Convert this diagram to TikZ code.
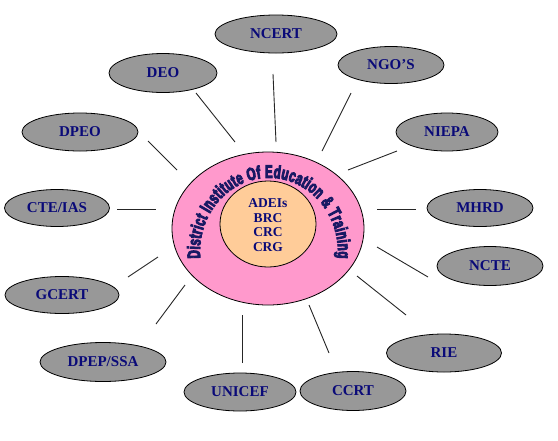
\documentclass[tikz,border=0pt]{standalone}
\usepackage{fontspec}
\setmainfont{Liberation Serif}
\newfontfamily\arcfont[FakeStretch=0.64,FakeBold=5]{Liberation Sans}
\usetikzlibrary{shapes.geometric,decorations.text}
\definecolor{satgray}{RGB}{152,152,152}
\definecolor{pinkfill}{RGB}{255,153,204}
\definecolor{orangefill}{RGB}{255,204,153}
\definecolor{navytext}{RGB}{10,10,120}
\definecolor{arcnavy}{RGB}{25,25,100}
\tikzset{
  sat/.style={ellipse, draw=black, line width=0.8pt, fill=satgray, inner sep=0pt,
    text=navytext, font=\fontsize{15}{17}\selectfont\bfseries},
  link/.style={draw=black!85, line width=0.9pt},
}
\begin{document}
\begin{tikzpicture}[x=1pt,y=-1pt]
\useasboundingbox (0,0) rectangle (558,440);
% central ellipses
\node[ellipse, draw=black, line width=0.8pt, fill=pinkfill, minimum width=192pt, minimum height=153pt, inner sep=0pt] (dit) at (268,228.5) {};
\node[ellipse, draw=black, line width=0.8pt, fill=orangefill, minimum width=96pt, minimum height=86pt, inner sep=0pt] (core) at (268,224) {};
\node[align=center, text=navytext, font=\fontsize{13.5}{14.7}\selectfont\bfseries] (coretext) at (268,225) {ADEIs\\BRC\\CRC\\CRG};
% arc text
\coordinate (arcstart) at (200.26,258.28);
\path[decorate, decoration={text along path, text align=fit to path,
  text={|\arcfont\bfseries\fontsize{18}{18}\selectfont\color{arcnavy}|District Institute Of Education {\&} Training}}]
  (arcstart) arc[start angle=185, end angle=-5, x radius=69pt, y radius=74pt];
% satellites
\node[sat, minimum width=122pt, minimum height=38pt] (ncert) at (276,34) {NCERT};
\node[sat, minimum width=108pt, minimum height=39pt] (deo) at (163,73) {DEO};
\node[sat, minimum width=116pt, minimum height=38pt] (dpeo) at (80,132) {DPEO};
\node[sat, minimum width=106pt, minimum height=37pt] (ngo) at (391,65) {NGO’S};
\node[sat, minimum width=102pt, minimum height=38pt] (niepa) at (447,132) {NIEPA};
\node[sat, minimum width=106pt, minimum height=37pt] (mhrd) at (480,208) {MHRD};
\node[sat, minimum width=106pt, minimum height=39pt] (ncte) at (490,266) {NCTE};
\node[sat, minimum width=115pt, minimum height=38pt] (rie) at (444,353) {RIE};
\node[sat, minimum width=106pt, minimum height=39pt] (ccrt) at (353,391) {CCRT};
\node[sat, minimum width=112pt, minimum height=38pt] (unicef) at (240,392) {UNICEF};
\node[sat, minimum width=126pt, minimum height=39pt] (dpep) at (103,362) {DPEP/SSA};
\node[sat, minimum width=114pt, minimum height=37pt] (gcert) at (62,295) {GCERT};
\node[sat, minimum width=105pt, minimum height=37pt] (cte) at (57,208) {CTE/IAS};
% connector end points
\coordinate (deoA) at (196,93);   \coordinate (deoB) at (235,142);
\coordinate (ncertA) at (273,74); \coordinate (ncertB) at (276,142);
\coordinate (ngoA) at (351,93);   \coordinate (ngoB) at (322,151);
\coordinate (niepaA) at (397,151);\coordinate (niepaB) at (348,170);
\coordinate (mhrdA) at (416,209); \coordinate (mhrdB) at (377,209);
\coordinate (ncteA) at (428,277); \coordinate (ncteB) at (377,247);
\coordinate (rieA) at (406,315);  \coordinate (rieB) at (357,276);
\coordinate (ccrtA) at (329,353); \coordinate (ccrtB) at (309,305);
\coordinate (unicefA) at (242,363);\coordinate (unicefB) at (242,315);
\coordinate (dpepA) at (156,324); \coordinate (dpepB) at (185,285);
\coordinate (gcertA) at (128,277);\coordinate (gcertB) at (158,257);
\coordinate (cteA) at (117,209);  \coordinate (cteB) at (156,209);
\coordinate (dpeoA) at (148,141); \coordinate (dpeoB) at (177,170);
\foreach \n in {deo,ncert,ngo,niepa,mhrd,ncte,rie,ccrt,unicef,dpep,gcert,cte,dpeo}
  \draw[link] (\n A) -- (\n B);
\end{tikzpicture}
\end{document}
